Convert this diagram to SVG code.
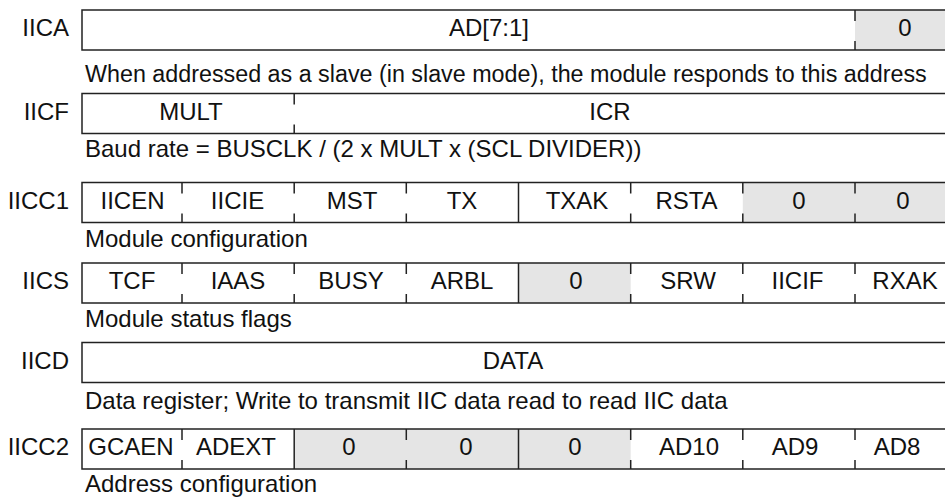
<svg xmlns="http://www.w3.org/2000/svg" width="945" height="498" viewBox="0 0 945 498">
<style>
.box{fill:none;stroke:#222;stroke-width:1.5}
.sh{fill:#e5e5e5}
.tk{stroke:#222;stroke-width:1.5;stroke-dasharray:11 20}
.fl{stroke:#222;stroke-width:1.5}
text{font-family:"Liberation Sans",Arial,sans-serif;font-size:24px;fill:#111}
.c{text-anchor:middle}
.l{text-anchor:end}
</style>
<rect width="945" height="498" fill="#fff"/>
<g id="connectors"/>
<g id="IICA">
<text class="l" x="69" y="36">IICA</text>
<rect class="sh" x="855" y="10" width="100" height="40"/>
<rect class="box" x="82" y="10" width="873" height="40"/>
<line class="tk" x1="855" y1="10" x2="855" y2="50"/>
<text class="c" x="489" y="36">AD[7:1]</text>
<text class="c" x="905" y="36">0</text>
<text x="85" y="82" style="font-size:23.3px">When addressed as a slave (in slave mode), the module responds to this address</text>
</g>
<g id="IICF">
<text class="l" x="69" y="119.5">IICF</text>
<rect class="box" x="82" y="93.5" width="873" height="40"/>
<line class="tk" x1="294.2" y1="93.5" x2="294.2" y2="133.5"/>
<text class="c" x="191" y="119.5">MULT</text>
<text class="c" x="610" y="119.5">ICR</text>
<text x="85" y="157">Baud rate = BUSCLK / (2 x MULT x (SCL DIVIDER))</text>
</g>
<g id="IICC1">
<text class="l" x="69" y="208.5">IICC1</text>
<rect class="sh" x="742.8" y="182.5" width="212.2" height="40"/>
<rect class="box" x="82" y="182.5" width="873" height="40"/>
<line class="tk" x1="182" y1="182.5" x2="182" y2="222.5"/>
<line class="tk" x1="294.2" y1="182.5" x2="294.2" y2="222.5"/>
<line class="tk" x1="406.3" y1="182.5" x2="406.3" y2="222.5"/>
<line class="fl" x1="518.5" y1="182.5" x2="518.5" y2="222.5"/>
<line class="tk" x1="630.7" y1="182.5" x2="630.7" y2="222.5"/>
<line class="tk" x1="742.8" y1="182.5" x2="742.8" y2="222.5"/>
<line class="tk" x1="855" y1="182.5" x2="855" y2="222.5"/>
<text class="c" x="132.5" y="208.5">IICEN</text>
<text class="c" x="237.5" y="208.5">IICIE</text>
<text class="c" x="352" y="208.5">MST</text>
<text class="c" x="462" y="208.5">TX</text>
<text class="c" x="577" y="208.5">TXAK</text>
<text class="c" x="686.5" y="208.5">RSTA</text>
<text class="c" x="799" y="208.5">0</text>
<text class="c" x="903" y="208.5">0</text>
<text x="85" y="247">Module configuration</text>
</g>
<g id="IICS">
<text class="l" x="69" y="289">IICS</text>
<rect class="sh" x="518.5" y="263" width="112.2" height="40"/>
<rect class="box" x="82" y="263" width="873" height="40"/>
<line class="tk" x1="182" y1="263" x2="182" y2="303"/>
<line class="tk" x1="294.2" y1="263" x2="294.2" y2="303"/>
<line class="tk" x1="406.3" y1="263" x2="406.3" y2="303"/>
<line class="fl" x1="518.5" y1="263" x2="518.5" y2="303"/>
<line class="tk" x1="630.7" y1="263" x2="630.7" y2="303"/>
<line class="tk" x1="742.8" y1="263" x2="742.8" y2="303"/>
<line class="tk" x1="855" y1="263" x2="855" y2="303"/>
<text class="c" x="132" y="289">TCF</text>
<text class="c" x="238" y="289">IAAS</text>
<text class="c" x="351" y="289">BUSY</text>
<text class="c" x="462" y="289">ARBL</text>
<text class="c" x="576" y="289">0</text>
<text class="c" x="688" y="289">SRW</text>
<text class="c" x="797.5" y="289">IICIF</text>
<text class="c" x="905" y="289">RXAK</text>
<text x="85" y="327">Module status flags</text>
</g>
<g id="IICD">
<text class="l" x="69" y="368.5">IICD</text>
<rect class="box" x="82" y="342.5" width="873" height="40"/>
<text class="c" x="513" y="368.5">DATA</text>
<text x="85" y="409">Data register; Write to transmit IIC data read to read IIC data</text>
</g>
<g id="IICC2">
<text class="l" x="69" y="455">IICC2</text>
<rect class="sh" x="294.2" y="429" width="336.5" height="40"/>
<rect class="box" x="82" y="429" width="873" height="40"/>
<line class="tk" x1="182" y1="429" x2="182" y2="469"/>
<line class="fl" x1="294.2" y1="429" x2="294.2" y2="469"/>
<line class="tk" x1="406.3" y1="429" x2="406.3" y2="469"/>
<line class="fl" x1="518.5" y1="429" x2="518.5" y2="469"/>
<line class="tk" x1="630.7" y1="429" x2="630.7" y2="469"/>
<line class="tk" x1="742.8" y1="429" x2="742.8" y2="469"/>
<line class="tk" x1="855" y1="429" x2="855" y2="469"/>
<text class="c" x="131" y="455">GCAEN</text>
<text class="c" x="236" y="455">ADEXT</text>
<text class="c" x="349" y="455">0</text>
<text class="c" x="466" y="455">0</text>
<text class="c" x="575" y="455">0</text>
<text class="c" x="689" y="455">AD10</text>
<text class="c" x="795" y="455">AD9</text>
<text class="c" x="897" y="455">AD8</text>
<text x="85" y="492">Address configuration</text>
</g>
</svg>
